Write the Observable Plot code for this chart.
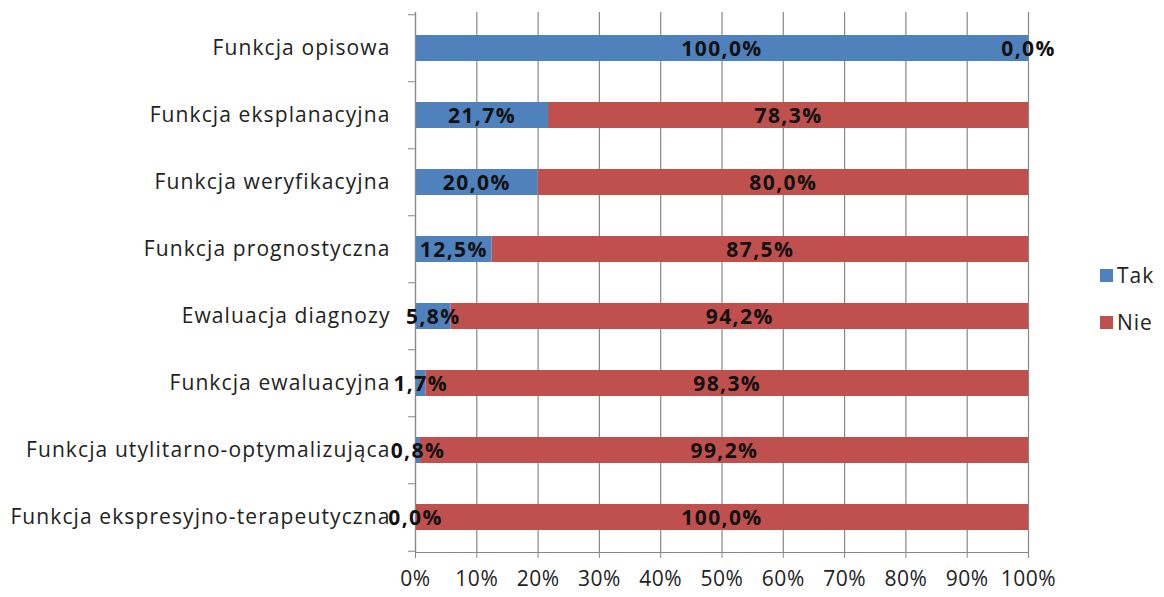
<!DOCTYPE html>
<html><head><meta charset="utf-8">
<script src="https://cdn.jsdelivr.net/npm/d3@7"></script>
<script src="https://cdn.jsdelivr.net/npm/@observablehq/plot@0.6"></script>
<style>
body{margin:0;background:#fff;}
#wrap{position:relative;width:1164px;height:597px;font-family:"Open Sans",Lato,sans-serif;}
.leg{position:absolute;left:1100px;display:flex;align-items:center;font-size:21px;letter-spacing:1px;color:#222;}
.leg span.sw{display:inline-block;width:13px;height:13px;margin-right:4px;}
g[aria-label="y-axis tick label"]{letter-spacing:1.1px;}
g[aria-label="text"]{letter-spacing:1.4px;}
g[aria-label="x-axis tick label"]{letter-spacing:0.5px;}
</style></head><body><div id="wrap"></div>
<script>
const categories = ["Funkcja opisowa","Funkcja eksplanacyjna","Funkcja weryfikacyjna","Funkcja prognostyczna","Ewaluacja diagnozy","Funkcja ewaluacyjna","Funkcja utylitarno-optymalizująca","Funkcja ekspresyjno-terapeutyczna"];
const tak = [100,21.7,20,12.5,5.8,1.7,0.8,0];
const nie = [0,78.3,80,87.5,94.2,98.3,99.2,100];
const seriesNames = ["Tak","Nie"];
const colors = ["#4F81BD","#C0504D"];
const xTicks = [0,10,20,30,40,50,60,70,80,90,100];

const data = [];
categories.forEach((c,i)=>{
  data.push({cat:c, series:"Tak", value:tak[i]});
  data.push({cat:c, series:"Nie", value:nie[i]});
});
const fmt = v => v.toFixed(1).replace(".",",")+"%";
const W=1164,H=597,mT=12,mB=45,mL=415,mR=136;
const step=(H-mT-mB)/categories.length;
const grid="#878787";
const chart = Plot.plot({
  width:W,height:H,marginTop:mT,marginBottom:mB,marginLeft:mL,marginRight:mR,
  style:{fontFamily:"'Open Sans', Lato, sans-serif",fontSize:"21px",color:"#222",background:"#fff"},
  x:{domain:[0,100],label:null},
  y:{domain:categories,paddingInner:0.615,paddingOuter:0.3075,label:null},
  color:{domain:seriesNames,range:colors},
  marks:[
    Plot.gridX(xTicks,{stroke:grid,strokeOpacity:1,strokeWidth:1.2}),
    Plot.barX(data,Plot.stackX({x:"value",y:"cat",fill:"series",order:seriesNames})),
    Plot.ruleX([0],{stroke:grid,strokeWidth:1.2}),
    Plot.frame({anchor:"bottom",stroke:grid,strokeWidth:1.2}),
    Plot.textX(data,Plot.stackX({x:"value",y:"cat",z:"series",order:seriesNames,text:d=>fmt(d.value),fontWeight:"bold",fontSize:21,fill:"#111",dy:1})),
    Plot.axisX(xTicks,{tickFormat:d=>d+"%",tickSize:6,tickPadding:13,stroke:grid,fill:"#222",fontSize:21,label:null}),
    Plot.axisY({tickSize:0,tickPadding:25,fontSize:21,fill:"#222",label:null}),
    Plot.axisY({tickSize:7,tickFormat:()=>"",stroke:grid,dy:-step/2,label:null}),
    Plot.axisY([categories[categories.length-1]],{tickSize:7,tickFormat:()=>"",stroke:grid,dy:step/2,label:null})
  ]
});
const wrap=document.getElementById("wrap");
wrap.appendChild(chart);
seriesNames.forEach((s,i)=>{
  const d=document.createElement("div");
  d.className="leg";
  d.style.top=(261+i*47)+"px";
  d.innerHTML=`<span class="sw" style="background:${colors[i]}"></span><span>${s}</span>`;
  wrap.appendChild(d);
});
</script>
</body></html>
